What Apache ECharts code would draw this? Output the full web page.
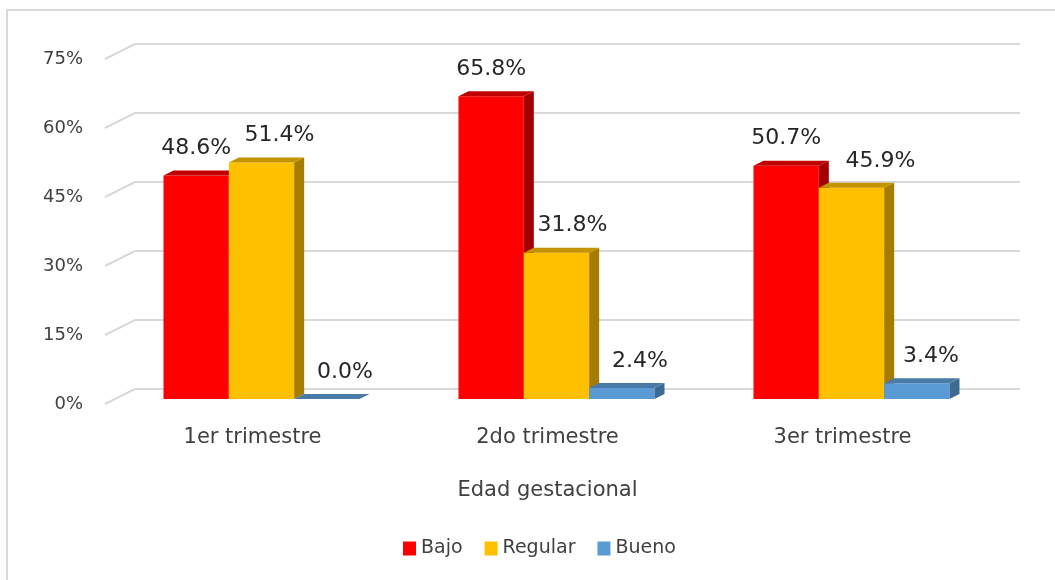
<!DOCTYPE html>
<html>
<head>
    <meta charset="utf-8">
    <title>Edad gestacional</title>
    <script src="https://cdn.jsdelivr.net/npm/echarts@6/dist/echarts.min.js"></script>
    <style>
        html, body{
            margin: 0;
            padding: 0;
            background: #fff;
        }
        #chart{
            width: 1055px;
            height: 580px;
        }
    </style>
</head>
<body>
<div id="chart"></div>
<script type="text/javascript">
    // datos
    var categorias = ['1er trimestre', '2do trimestre', '3er trimestre'];
    var bajo = [48.6, 65.8, 50.7];
    var regular = [51.4, 31.8, 45.9];
    var bueno = [0.0, 2.4, 3.4];
    var ticks = [0, 15, 30, 45, 60, 75];

    var FONT = 'DejaVu Sans';
    var DX = 10, DY = 5;      // profundidad de cada barra
    var BAR_FRAC = 0.2215;    // ancho de barra / ancho de categoria

    // desplazamiento horizontal de las etiquetas (como en el original)
    var labelShift = {
        'Bajo': [0, 0, 0],
        'Regular': [18, 16, 29],
        'Bueno': [18, 18, 14]
    };

    function barSeries(name, values, k, colors) {
        return {
            name: name,
            type: 'custom',
            xAxisIndex: 2,
            yAxisIndex: 2,
            data: values.map(function (v, i) { return [i, v]; }),
            itemStyle: { color: colors[0] },
            renderItem: function (params, api) {
                var i = api.value(0);
                var base = api.coord([i, 0]);
                var top = api.coord([i, api.value(1)]);
                var w = api.size([1, 0])[0] * BAR_FRAC;
                var x0 = base[0] - 1.5 * w + k * w;
                var yb = base[1], yt = top[1];
                return {
                    type: 'group',
                    children: [{
                        type: 'rect',
                        shape: { x: x0, y: yt, width: w, height: yb - yt },
                        style: { fill: colors[0] }
                    }, {
                        type: 'polygon',
                        shape: { points: [[x0 + w, yt], [x0 + w + DX, yt - DY], [x0 + w + DX, yb - DY], [x0 + w, yb]] },
                        style: { fill: colors[1] }
                    }, {
                        type: 'polygon',
                        shape: { points: [[x0, yt], [x0 + DX, yt - DY], [x0 + w + DX, yt - DY], [x0 + w, yt]] },
                        style: { fill: colors[2] }
                    }, {
                        type: 'text',
                        style: {
                            x: x0 + w / 2 + labelShift[name][i],
                            y: yt - 27,
                            text: api.value(1).toFixed(1) + '%',
                            align: 'center',
                            verticalAlign: 'middle',
                            fill: '#262626',
                            font: '22px "' + FONT + '"'
                        }
                    }]
                };
            }
        };
    }

    var myChart = echarts.init(document.getElementById('chart'));
    var option = {
        animation: false,
        textStyle: { fontFamily: FONT },
        graphic: [{
            type: 'rect',
            shape: { x: 7, y: 10, width: 1200, height: 800 },
            style: { fill: 'none', stroke: '#d9d9d9', lineWidth: 2 },
            silent: true
        }],
        legend: {
            top: 534,
            left: 398,
            icon: 'rect',
            itemWidth: 13,
            itemHeight: 14,
            itemGap: 22,
            textStyle: { fontSize: 19, color: '#404040', fontFamily: FONT },
            data: ['Bajo', 'Regular', 'Bueno']
        },
        grid: [
            // pared del fondo (lineas de division)
            { left: 135, top: 44, width: 885, height: 345 },
            // plano frontal (etiquetas de ejes)
            { left: 105, top: 59, width: 885, height: 345 },
            // plano de las barras
            { left: 114, top: 54, width: 885, height: 345 }
        ],
        xAxis: [{
            gridIndex: 0, type: 'category', data: categorias, show: false
        }, {
            gridIndex: 1, type: 'category', data: categorias,
            axisLine: { show: false }, axisTick: { show: false },
            axisLabel: { fontSize: 21, color: '#404040', margin: 23 },
            name: 'Edad gestacional',
            nameLocation: 'middle',
            nameGap: 76,
            nameTextStyle: { fontSize: 21, color: '#404040' }
        }, {
            gridIndex: 2, type: 'category', data: categorias, show: false
        }],
        yAxis: [{
            gridIndex: 0, type: 'value', min: 0, max: 75, interval: 15,
            axisLine: { show: false }, axisTick: { show: false }, axisLabel: { show: false },
            splitLine: { lineStyle: { color: '#d9d9d9', width: 2 } }
        }, {
            gridIndex: 1, type: 'value', min: 0, max: 75, interval: 15,
            axisLine: { show: false }, axisTick: { show: false }, splitLine: { show: false },
            axisLabel: { fontSize: 18, color: '#404040', margin: 22, formatter: '{value}%' }
        }, {
            gridIndex: 2, type: 'value', min: 0, max: 75, interval: 15, show: false
        }],
        series: [{
            // lineas diagonales del piso de cada division
            type: 'custom',
            xAxisIndex: 1,
            yAxisIndex: 1,
            silent: true,
            data: ticks.map(function (t) { return [0, t]; }),
            renderItem: function (params, api) {
                var p = api.coord([0, api.value(1)]);
                var x = params.coordSys.x;
                return {
                    type: 'line',
                    shape: { x1: x, y1: p[1], x2: x + 30, y2: p[1] - 15 },
                    style: { stroke: '#d9d9d9', lineWidth: 2 }
                };
            }
        },
            barSeries('Bajo', bajo, 0, ['#ff0000', '#a50000', '#c00000']),
            barSeries('Regular', regular, 1, ['#ffc000', '#a67c00', '#c49300']),
            barSeries('Bueno', bueno, 2, ['#5b9bd5', '#3d6a93', '#4a7aa8'])
        ]
    };
    myChart.setOption(option);
</script>
</body>
</html>
